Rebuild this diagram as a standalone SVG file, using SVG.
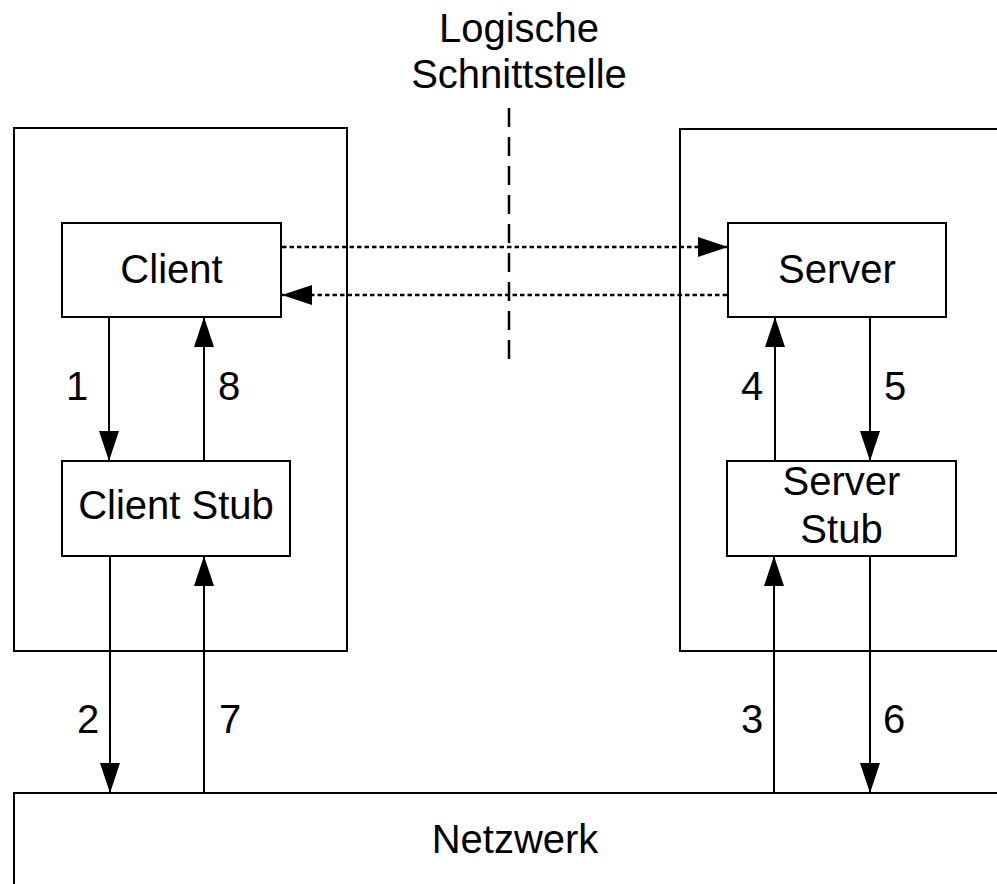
<svg xmlns="http://www.w3.org/2000/svg" width="997" height="884" viewBox="0 0 997 884">
<defs>
<style>
.box{fill:#fff;stroke:#000;stroke-width:2}
.frame{fill:none;stroke:#000;stroke-width:2}
.ln{fill:none;stroke:#000;stroke-width:2}
.dot{fill:none;stroke:#000;stroke-width:2.5;stroke-dasharray:4.5 3}
.dash{fill:none;stroke:#000;stroke-width:2.5;stroke-dasharray:19 10}
text{font-family:"Liberation Sans",Arial,sans-serif;font-size:40px;fill:#000;text-anchor:middle}
</style>
<marker id="ah" markerUnits="userSpaceOnUse" markerWidth="31" markerHeight="21" refX="30" refY="10" orient="auto">
<path d="M0,0 L30,10 L0,20 Z" fill="#000"/>
</marker>
</defs>
<rect width="997" height="884" fill="#fff"/>
<g id="client-host"><rect class="frame" x="14" y="128" width="333" height="523"/></g>
<g id="server-host"><path class="frame" d="M998,129 L680,129 L680,651 L998,651"/></g>
<g id="netzwerk"><path class="frame" d="M14,884 L14,793 L998,793"/><text x="515" y="853">Netzwerk</text></g>
<g id="schnittstelle"><line class="dash" x1="509" y1="108" x2="509" y2="360"/><text x="519" y="42">Logische</text><text x="519" y="88">Schnittstelle</text></g>
<g id="client"><rect class="box" x="62" y="223" width="219" height="94"/><text x="171.5" y="283">Client</text></g>
<g id="client-stub"><rect class="box" x="62" y="461" width="228" height="95"/><text x="176" y="519">Client Stub</text></g>
<g id="server"><rect class="box" x="728" y="223" width="218" height="94"/><text x="837" y="283">Server</text></g>
<g id="server-stub"><rect class="box" x="727" y="461" width="229" height="95"/><text x="841.5" y="495">Server</text><text x="841.5" y="543">Stub</text></g>
<g id="connectors">
<line class="dot" x1="282" y1="247" x2="728" y2="247" marker-end="url(#ah)"/>
<line class="dot" x1="727" y1="295" x2="282" y2="295" marker-end="url(#ah)"/>
<line class="ln" x1="109" y1="317" x2="109" y2="461" marker-end="url(#ah)"/>
<line class="ln" x1="204" y1="461" x2="204" y2="317" marker-end="url(#ah)"/>
<line class="ln" x1="775" y1="461" x2="775" y2="317" marker-end="url(#ah)"/>
<line class="ln" x1="870" y1="317" x2="870" y2="461" marker-end="url(#ah)"/>
<line class="ln" x1="110" y1="556" x2="110" y2="793" marker-end="url(#ah)"/>
<line class="ln" x1="204" y1="793" x2="204" y2="556" marker-end="url(#ah)"/>
<line class="ln" x1="774" y1="793" x2="774" y2="556" marker-end="url(#ah)"/>
<line class="ln" x1="870" y1="556" x2="870" y2="793" marker-end="url(#ah)"/>
<text x="77" y="400">1</text>
<text x="229" y="400">8</text>
<text x="752" y="400">4</text>
<text x="895" y="400">5</text>
<text x="88" y="733">2</text>
<text x="230" y="733">7</text>
<text x="752" y="733">3</text>
<text x="894" y="733">6</text>
</g>
</svg>
